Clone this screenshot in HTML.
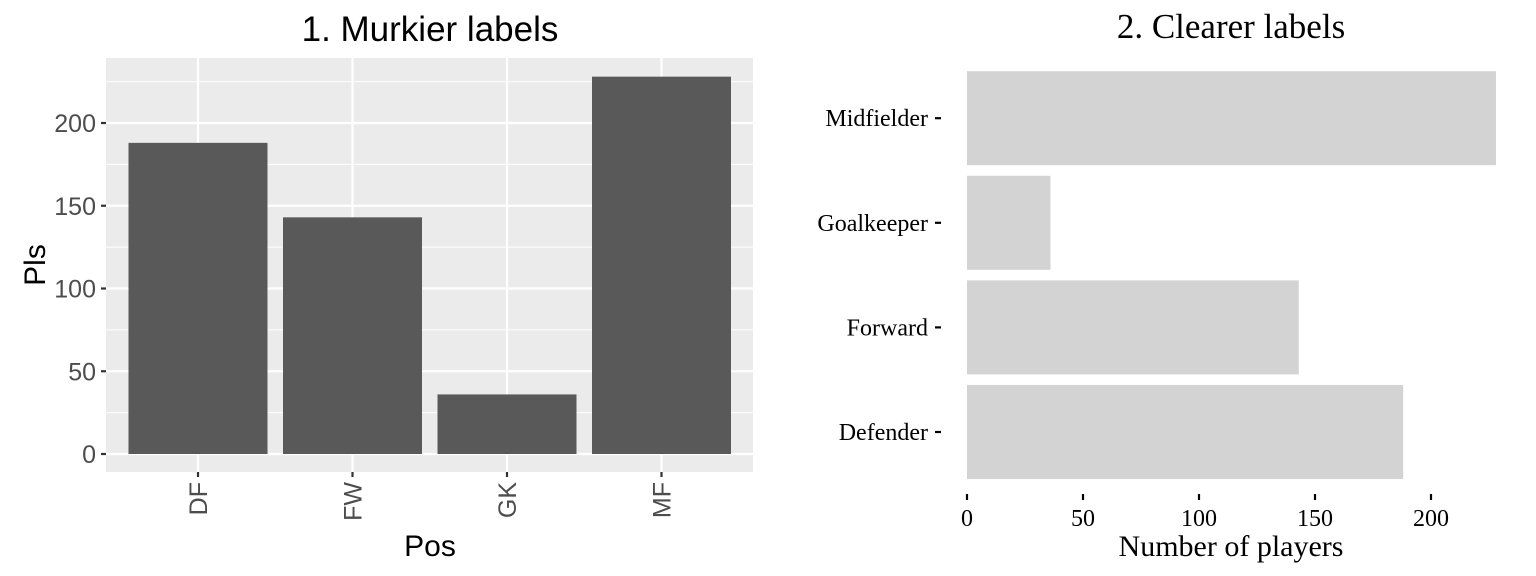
<!DOCTYPE html>
<html><head><meta charset="utf-8"><style>
html,body{margin:0;padding:0;background:#fff;}
svg{display:block}
</style></head><body>
<svg id="chart" width="1536" height="576" xmlns="http://www.w3.org/2000/svg"></svg>
<script>
const leftCats = ["DF","FW","GK","MF"];
const leftVals = [188,143,36,228];
const leftTicks = [0,50,100,150,200];
const rightCats = ["Defender","Forward","Goalkeeper","Midfielder"];
const rightVals = [188,143,36,228];
const rightTicks = [0,50,100,150,200];

const NS="http://www.w3.org/2000/svg";
const svg=document.getElementById('chart');
function mk(tag,attrs,parent,text){const e=document.createElementNS(NS,tag);for(const k in attrs)e.setAttribute(k,attrs[k]);if(text!==undefined)e.textContent=text;(parent||svg).appendChild(e);return e;}

// ---- Left panel ----
const L={x0:106,x1:753,y0:58,y1:472};
const ly=v=>454-v*(331/200);
const lstep=154.5, lx=i=>198+i*lstep;
const lg=mk('g',{});


const bg=mk('rect',{x:L.x0,y:L.y0,width:L.x1-L.x0,height:L.y1-L.y0,fill:'#EBEBEB'},lg);


for(let i=0;i<leftTicks.length-1;i++){const m=(leftTicks[i]+leftTicks[i+1])/2;mk('line',{x1:L.x0,x2:L.x1,y1:ly(m),y2:ly(m),stroke:'#fff','stroke-width':1.1},lg);}
mk('line',{x1:L.x0,x2:L.x1,y1:ly(225),y2:ly(225),stroke:'#fff','stroke-width':1.1},lg);
leftTicks.forEach(t=>{
  mk('line',{x1:L.x0,x2:L.x1,y1:ly(t),y2:ly(t),stroke:'#fff','stroke-width':2.2},lg);
  mk('line',{x1:L.x0-5,x2:L.x0,y1:ly(t),y2:ly(t),stroke:'#333','stroke-width':2.2},lg);
  const tl=mk('text',{x:L.x0-10,y:ly(t)+9,'text-anchor':'end','font-size':25,fill:'#4D4D4D','font-family':'Liberation Sans, sans-serif'},lg,String(t));
  
  
});
leftCats.forEach((c,i)=>{
  mk('line',{x1:lx(i),x2:lx(i),y1:L.y0,y2:L.y1,stroke:'#fff','stroke-width':2.2},lg);
});
leftCats.forEach((c,i)=>{
  const b=mk('rect',{x:lx(i)-69.5,y:ly(leftVals[i]),width:139,height:ly(0)-ly(leftVals[i]),fill:'#595959'},lg);
  
  
  mk('line',{x1:lx(i),x2:lx(i),y1:L.y1,y2:L.y1+5,stroke:'#333','stroke-width':2.2},lg);
  const t=mk('text',{transform:`translate(${lx(i)+9},${L.y1+10}) rotate(-90)`,'text-anchor':'end','font-size':25,fill:'#4D4D4D','font-family':'Liberation Sans, sans-serif'},lg,c);
  
  
});
let e=mk('text',{x:430,y:41,'text-anchor':'middle','font-size':35,fill:'#000','font-family':'Liberation Sans, sans-serif'},lg,'1. Murkier labels');

e=mk('text',{x:430,y:556,'text-anchor':'middle','font-size':30,fill:'#000','font-family':'Liberation Sans, sans-serif'},lg,'Pos');

e=mk('text',{transform:'translate(45,265) rotate(-90)','text-anchor':'middle','font-size':30,fill:'#000','font-family':'Liberation Sans, sans-serif'},lg,'Pls');


// ---- Right panel ----
const rx=v=>967+v*(464/200);
const ry=i=>432-i*104.6;
const rg=mk('g',{});


rightCats.forEach((c,i)=>{
  const b=mk('rect',{x:rx(0),y:ry(i)-47,width:rx(rightVals[i])-rx(0),height:94,fill:'#D3D3D3'},rg);
  
  
  mk('line',{x1:935,x2:941,y1:ry(i),y2:ry(i),stroke:'#000','stroke-width':2.2},rg);
  const t=mk('text',{x:928,y:ry(i)+8,'text-anchor':'end','font-size':24,fill:'#000','font-family':'Liberation Serif, serif'},rg,c);
  
  
});
rightTicks.forEach(t=>{
  mk('line',{x1:rx(t),x2:rx(t),y1:494,y2:500,stroke:'#000','stroke-width':2.2},rg);
  const tl=mk('text',{x:rx(t),y:526,'text-anchor':'middle','font-size':24,fill:'#000','font-family':'Liberation Serif, serif'},rg,String(t));
  
  
});
e=mk('text',{x:1231,y:38,'text-anchor':'middle','font-size':35,fill:'#000','font-family':'Liberation Serif, serif'},rg,'2. Clearer labels');

e=mk('text',{x:1231,y:556,'text-anchor':'middle','font-size':30,fill:'#000','font-family':'Liberation Serif, serif'},rg,'Number of players');

</script>
</body></html>
